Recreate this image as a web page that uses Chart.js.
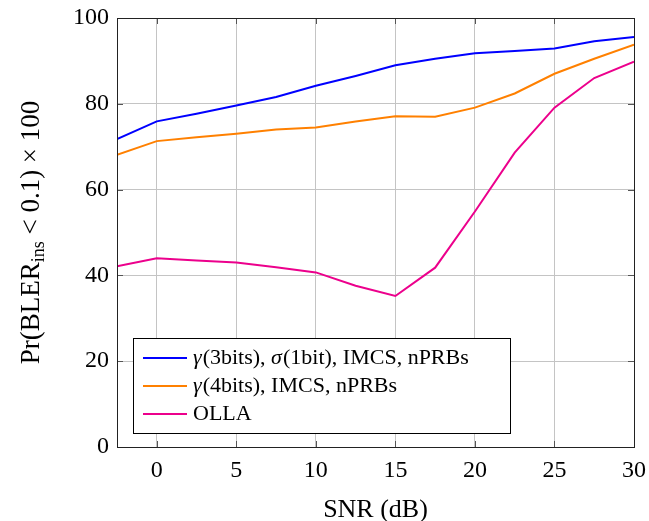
<!DOCTYPE html>
<html>
<head>
<meta charset="utf-8">
<script src="https://cdn.jsdelivr.net/npm/chart.js@4"></script>
<style>
  html, body { margin: 0; padding: 0; background: #fff; }
  #wrap { width: 649px; height: 521px; }
</style>
</head>
<body>
<div id="wrap"><canvas id="chartSNR" width="649" height="521"></canvas></div>
<script>
// DATA
var snr = [-2.5, 0, 2.5, 5, 7.5, 10, 12.5, 15, 17.5, 20, 22.5, 25, 27.5, 30];
var gamma3sigma1 = [71.8, 75.9, 77.7, 79.6, 81.6, 84.2, 86.5, 89.0, 90.5, 91.8, 92.3, 92.9, 94.6, 95.6];
var gamma4 = [68.1, 71.3, 72.2, 73.0, 74.0, 74.5, 75.9, 77.1, 77.0, 79.1, 82.4, 87.0, 90.5, 93.8];
var olla = [42.1, 44.0, 43.5, 43.0, 41.9, 40.7, 37.6, 35.2, 41.8, 54.9, 68.6, 79.1, 86.0, 89.8];
var xTicks = [0, 5, 10, 15, 20, 25, 30];
var yTicks = [0, 20, 40, 60, 80, 100];
var labels = ["γ(3bits), σ(1bit), IMCS, nPRBs", "γ(4bits), IMCS, nPRBs", "OLLA"];
var colors = ["#0000ff", "#ff8000", "#ec008c"];

var serif = "'Liberation Serif', 'DejaVu Serif', serif";

function pairs(ys) {
  var out = [];
  for (var i in ys) out.push({ x: snr[i], y: ys[i] });
  return out;
}

// draw text pieces one after another, greek letters in italic
function drawRich(ctx, text, x, y, size) {
  var pieces = text.split(/([γσ])/);
  pieces.forEach(function(p) {
    if (p === "") return;
    var greek = (p === "γ" || p === "σ");
    ctx.font = (greek ? "italic " : "") + size + "px " + serif;
    ctx.fillText(p, x, y);
    x += ctx.measureText(p).width + (greek ? 1 : 0);
  });
}

// y title with subscript, drawn by hand
var yTitlePlugin = {
  id: "yTitle",
  afterDraw: function(chart) {
    var ctx = chart.ctx;
    var a = chart.chartArea;
    ctx.save();
    ctx.translate(32, (a.top + a.bottom) / 2);
    ctx.rotate(-Math.PI / 2);
    ctx.fillStyle = "#000";
    ctx.textBaseline = "middle";
    var big = "27px " + serif, small = "18px " + serif;
    var parts = [["Pr(BLER", big, 0], ["ins", small, 7], [" < 0.1) × 100", big, 0]];
    var w = 0;
    parts.forEach(function(p) { ctx.font = p[1]; w += ctx.measureText(p[0]).width; });
    var x = -w / 2;
    parts.forEach(function(p) {
      ctx.font = p[1];
      ctx.fillText(p[0], x, p[2]);
      x += ctx.measureText(p[0]).width;
    });
    ctx.restore();
  }
};

// legend box inside the plot, pgfplots style
var boxLegendPlugin = {
  id: "boxLegend",
  afterDatasetsDraw: function(chart) {
    var ctx = chart.ctx;
    var bx = 133, by = 338, bw = 377, bh = 95;
    ctx.save();
    ctx.fillStyle = "#fff";
    ctx.fillRect(bx, by, bw, bh);
    ctx.strokeStyle = "#000";
    ctx.lineWidth = 1;
    ctx.strokeRect(bx + 0.5, by + 0.5, bw, bh);
    ctx.textBaseline = "middle";
    chart.data.datasets.forEach(function(ds, i) {
      var y = by + 20 + i * 28;
      ctx.strokeStyle = ds.borderColor;
      ctx.lineWidth = 2;
      ctx.beginPath();
      ctx.moveTo(bx + 10, y);
      ctx.lineTo(bx + 54, y);
      ctx.stroke();
      ctx.fillStyle = "#000";
      drawRich(ctx, ds.label, bx + 60, y, 22);
    });
    ctx.restore();
  }
};

// short inward ticks on all four sides
var innerTicksPlugin = {
  id: "innerTicks",
  afterDraw: function(chart) {
    var ctx = chart.ctx;
    var a = chart.chartArea;
    var xs = chart.scales.x, ys = chart.scales.y;
    ctx.save();
    ctx.strokeStyle = "#555";
    ctx.lineWidth = 1;
    ctx.beginPath();
    xTicks.forEach(function(v) {
      var px = Math.round(xs.getPixelForValue(v)) + 0.5;
      ctx.moveTo(px, a.bottom); ctx.lineTo(px, a.bottom - 6);
      ctx.moveTo(px, a.top); ctx.lineTo(px, a.top + 6);
    });
    yTicks.forEach(function(v) {
      var py = Math.round(ys.getPixelForValue(v)) + 0.5;
      ctx.moveTo(a.left, py); ctx.lineTo(a.left + 6, py);
      ctx.moveTo(a.right, py); ctx.lineTo(a.right - 6, py);
    });
    ctx.stroke();
    ctx.strokeStyle = "#222";
    ctx.strokeRect(a.left + 0.5, a.top + 0.5, a.right - a.left, a.bottom - a.top);
    ctx.restore();
  }
};

const snrData = {
  datasets: [gamma3sigma1, gamma4, olla].map(function(ys, i) {
    return {
      label: labels[i],
      data: pairs(ys),
      borderColor: colors[i],
      backgroundColor: colors[i],
      borderWidth: 2,
      pointRadius: 0,
      tension: 0,
      fill: false
    };
  })
};

const configSNR = {
  type: "line",
  data: snrData,
  options: {
    responsive: false,
    animation: false,
    events: [],
    layout: { padding: { left: 0, top: 18, right: 15, bottom: 0 } },
    plugins: { legend: { display: false }, tooltip: { enabled: false } },
    scales: {
      x: {
        type: "linear",
        min: -2.5,
        max: 30,
        afterBuildTicks: function(scale) {
          scale.ticks = xTicks.map(function(v) { return { value: v }; });
        },
        afterFit: function(scale) {
          scale.height = 74;
          scale.paddingLeft = 0;
          scale.paddingRight = 0;
        },
        grid: { color: "#c4c4c4", drawTicks: false },
        border: { color: "#222" },
        ticks: { color: "#000", padding: 9, maxRotation: 0, font: { family: serif, size: 24 } },
        title: { display: true, text: "SNR (dB)", color: "#000", padding: { top: 20, bottom: -5 }, font: { family: serif, size: 26 } }
      },
      y: {
        min: 0,
        max: 100,
        afterBuildTicks: function(scale) {
          scale.ticks = yTicks.map(function(v) { return { value: v }; });
        },
        afterFit: function(scale) {
          scale.width = 117;
          scale.paddingTop = 0;
          scale.paddingBottom = 0;
        },
        grid: { color: "#c4c4c4", drawTicks: false },
        border: { color: "#222" },
        ticks: { color: "#000", padding: 8, font: { family: serif, size: 24 } }
      }
    }
  },
  plugins: [yTitlePlugin, boxLegendPlugin, innerTicksPlugin]
};

var chartLine = new Chart(document.getElementById("chartSNR"), configSNR);
</script>
</body>
</html>
